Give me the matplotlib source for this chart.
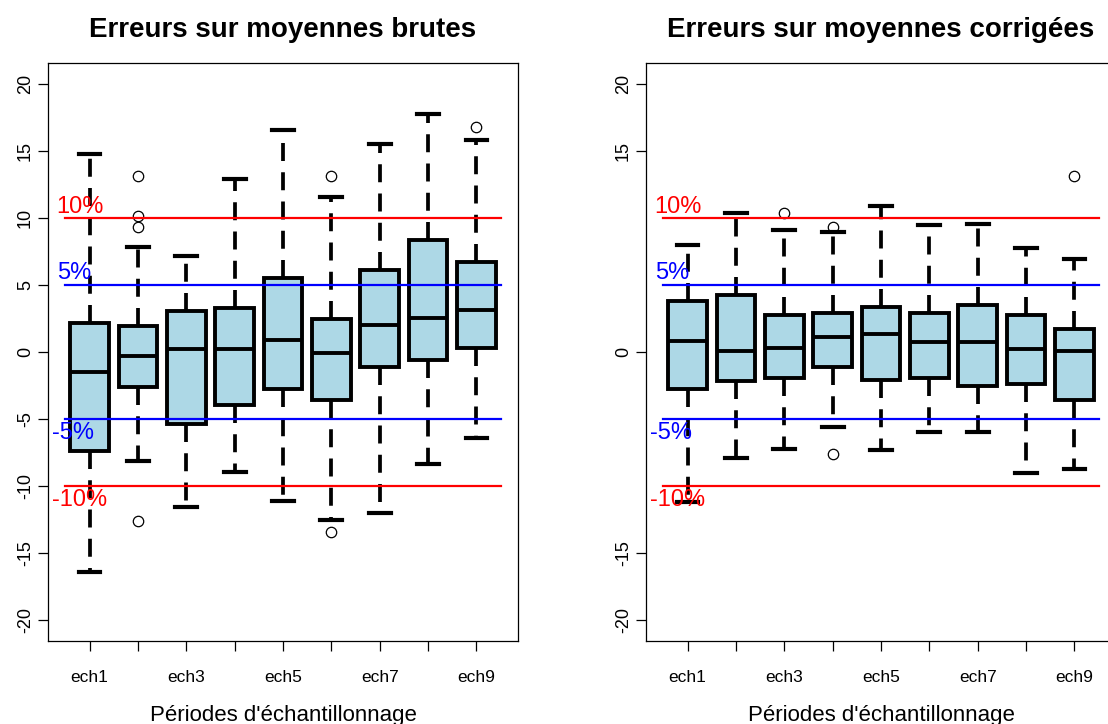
import matplotlib
matplotlib.use("Agg")
import matplotlib.pyplot as plt

plt.rcParams['font.family'] = ['Liberation Sans', 'DejaVu Sans']

categories = ["ech1", "ech2", "ech3", "ech4", "ech5", "ech6", "ech7", "ech8", "ech9"]

# Panel 1: raw means
brut_whislo = [-16.47, -8.12, -11.61, -8.95, -11.12, -12.56, -12.01, -8.35, -6.40]
brut_q1     = [-7.40, -2.59, -5.38, -3.94, -2.74, -3.61, -1.10, -0.62, 0.27]
brut_med    = [-1.47, -0.27, 0.20, 0.20, 0.90, -0.07, 2.04, 2.57, 3.17]
brut_q3     = [2.14, 1.94, 3.09, 3.29, 5.56, 2.49, 6.13, 8.35, 6.73]
brut_whishi = [14.78, 7.85, 7.15, 12.93, 16.62, 11.61, 15.53, 17.82, 15.85]
brut_fliers = [[], [13.16, 10.17, 9.35, -12.61], [], [], [], [13.13, -13.48], [], [], [16.80]]

# Panel 2: corrected means
corr_whislo = [-11.24, -7.95, -7.25, -5.61, -7.33, -5.96, -5.96, -9.02, -8.75]
corr_q1     = [-2.74, -2.14, -1.94, -1.12, -2.09, -1.94, -2.52, -2.42, -3.57]
corr_med    = [0.85, 0.07, 0.27, 1.09, 1.37, 0.75, 0.75, 0.25, 0.07]
corr_q3     = [3.84, 4.29, 2.74, 2.92, 3.34, 2.92, 3.49, 2.74, 1.74]
corr_whishi = [8.00, 10.37, 9.12, 8.97, 10.94, 9.47, 9.57, 7.75, 6.98]
corr_fliers = [[], [], [10.37], [9.32, -7.65], [], [], [], [], [13.13]]

ref_levels = [10, 5, -5, -10]
ref_labels = ["10%", "5%", "-5%", "-10%"]
ref_colors = ["red", "blue", "blue", "red"]

titles = ["Erreurs sur moyennes brutes", "Erreurs sur moyennes corrigées"]
xlabel = "Périodes d'échantillonnage"
yticks_left = [-20, -15, -10, -5, 0, 5, 10, 15, 20]
yticks_right = [-20, -15, 0, 15, 20]

W, H = 1108, 724
fig = plt.figure(figsize=(W / 100, H / 100), dpi=100)

def draw(ax, whislo, q1, med, q3, whishi, fliers, title, yticks):
    stats = []
    for i in range(len(categories)):
        stats.append(dict(whislo=whislo[i], q1=q1[i], med=med[i], q3=q3[i],
                          whishi=whishi[i], fliers=fliers[i], label=categories[i]))
    pos = list(range(1, len(categories) + 1))
    ax.bxp(stats, positions=pos, widths=0.8, patch_artist=True, showfliers=True,
           boxprops=dict(facecolor='#ADD8E6', edgecolor='black', linewidth=2.8),
           medianprops=dict(color='black', linewidth=2.8),
           whiskerprops=dict(color='black', linewidth=2.7, linestyle=(0, (4.8, 3.0))),
           capprops=dict(color='black', linewidth=3.0),
           flierprops=dict(marker='o', markerfacecolor='none', markeredgecolor='black',
                           markersize=7.5, markeredgewidth=0.9),
           capwidths=0.45)
    for lvl, lab, col in zip(ref_levels, ref_labels, ref_colors):
        ax.plot([0.5, 9.5], [lvl, lvl], color=col, linewidth=1.6, zorder=4)
        if lvl > 0:
            ax.text(0.32, lvl + 0.05, lab, color=col, fontsize=17, ha='left', va='bottom', zorder=5)
        else:
            ax.text(0.22, lvl - 0.25, lab, color=col, fontsize=17, ha='left', va='top', zorder=5)
    ax.set_xlim(0.14, 9.86)
    ax.set_ylim(-21.6, 21.6)
    ax.set_xticks(pos)
    ax.set_xticklabels([c if i % 2 == 0 else "" for i, c in enumerate(categories)], fontsize=12.5)
    ax.set_yticks(yticks)
    ax.set_yticklabels([str(v) for v in yticks], fontsize=13, rotation=90, va='center')
    ax.tick_params(axis='both', length=7, width=0.9, color='black', direction='out')
    ax.tick_params(axis='x', pad=14)
    ax.tick_params(axis='y', pad=3)
    for s in ax.spines.values():
        s.set_linewidth(0.9)
        s.set_color('black')
    ax.set_title(title, fontsize=20, fontweight='bold', pad=19)
    ax.set_xlabel(xlabel, fontsize=16, labelpad=14)

ax1 = fig.add_axes([48 / W, 1 - 641 / H, 470 / W, 578 / H])
draw(ax1, brut_whislo, brut_q1, brut_med, brut_q3, brut_whishi, brut_fliers, titles[0], yticks_left)

ax2 = fig.add_axes([646 / W, 1 - 641 / H, 470 / W, 578 / H])
draw(ax2, corr_whislo, corr_q1, corr_med, corr_q3, corr_whishi, corr_fliers, titles[1], yticks_right)

fig.savefig("out.png", dpi=100)
